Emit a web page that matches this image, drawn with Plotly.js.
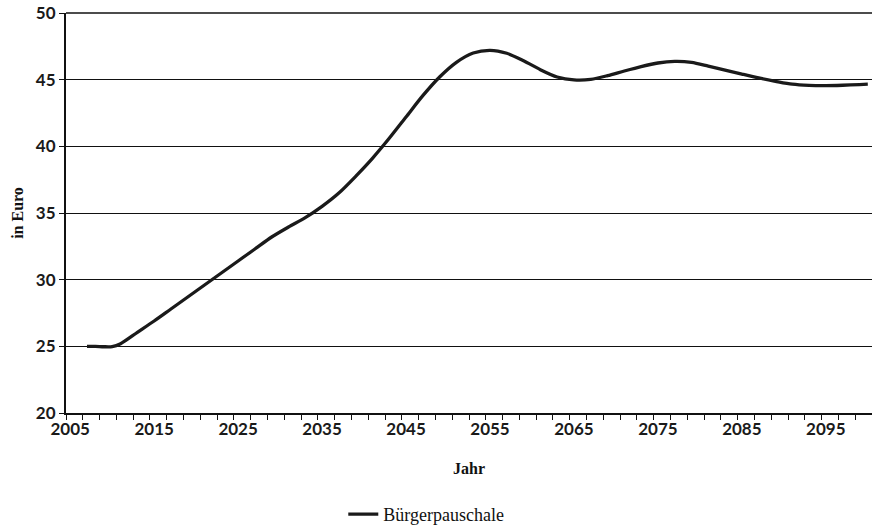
<!DOCTYPE html>
<html>
<head>
<meta charset="utf-8">
<script src="https://cdn.plot.ly/plotly-3.0.1.min.js"></script>
<style>html,body{margin:0;padding:0;background:#fff;}#chart{width:872px;height:526px;}</style>
</head>
<body>
<div id="chart"></div>
<script>
const years = [2007,2008,2009,2010,2011,2013,2015,2017,2019,2021,2023,2025,2027,2029,2031,2033,2035,2037,2039,2041,2043,2045,2047,2049,2051,2053,2055,2057,2059,2061,2063,2065,2067,2069,2071,2073,2075,2077,2079,2081,2083,2085,2087,2089,2091,2093,2095,2097,2099,2100];
const values = [25.0,25.0,24.97,24.98,25.2,26.05,26.9,27.8,28.7,29.6,30.5,31.4,32.3,33.2,33.95,34.65,35.5,36.5,37.75,39.1,40.6,42.2,43.8,45.2,46.3,47.0,47.2,46.98,46.42,45.75,45.2,44.98,45.02,45.3,45.65,45.98,46.25,46.37,46.3,46.02,45.72,45.42,45.13,44.88,44.66,44.57,44.55,44.58,44.63,44.66];
const xTickVals = [2005,2015,2025,2035,2045,2055,2065,2075,2085,2095];
const xTickText = ['2005','2015','2025','2035','2045','2055','2065','2075','2085','2095'];
const yTickVals = [20,25,30,35,40,45,50];
const seriesName = 'Bürgerpauschale';

const trace = {
  x: years, y: values, type: 'scatter', mode: 'lines', name: seriesName,
  line: {color: '#1a1a1a', width: 3.3, shape: 'spline', smoothing: 0.8}
};
const tickFont = {family: 'Lato, sans-serif', size: 17, color: '#1a1a1a', weight: 'bold'};
const layout = {
  width: 872, height: 526,
  margin: {l: 66, r: 0, t: 13, b: 113, autoexpand: false},
  paper_bgcolor: '#fff', plot_bgcolor: '#fff',
  showlegend: true,
  legend: {orientation: 'h', x: 0.447, xanchor: 'center', yref: 'container', y: 0.022, yanchor: 'middle',
           font: {family: '"Liberation Serif", serif', size: 18, color: '#111'}},
  shapes: [{type: 'line', xref: 'paper', yref: 'paper', x0: 0, x1: 1, y0: 1, y1: 1, line: {color: '#111', width: 1.5}}],
  xaxis: {
    range: [2004.5, 2100.5], tickmode: 'array', tickvals: xTickVals, ticktext: xTickText,
    ticks: '', tickfont: tickFont, showgrid: false, zeroline: false,
    showline: true, linecolor: '#111', linewidth: 2,
    minor: {ticks: 'outside', tick0: 2004.5, dtick: 2, ticklen: 5, tickcolor: '#111', tickwidth: 1, showgrid: false},
    title: {text: 'Jahr', standoff: 24, font: {family: '"Liberation Serif", serif', size: 16, color: '#111', weight: 'bold'}}
  },
  yaxis: {
    range: [20, 50], tickmode: 'array', tickvals: yTickVals,
    ticks: 'outside', ticklen: 5, tickcolor: '#111', tickfont: tickFont,
    showgrid: true, gridcolor: '#111', gridwidth: 1, zeroline: false,
    showline: true, linecolor: '#111', linewidth: 2,
    title: {text: 'in Euro', standoff: 8, font: {family: '"Liberation Serif", serif', size: 16, color: '#111', weight: 'bold'}}
  }
};
Plotly.newPlot('chart', [trace], layout, {displayModeBar: false, staticPlot: true});
</script>
</body>
</html>
